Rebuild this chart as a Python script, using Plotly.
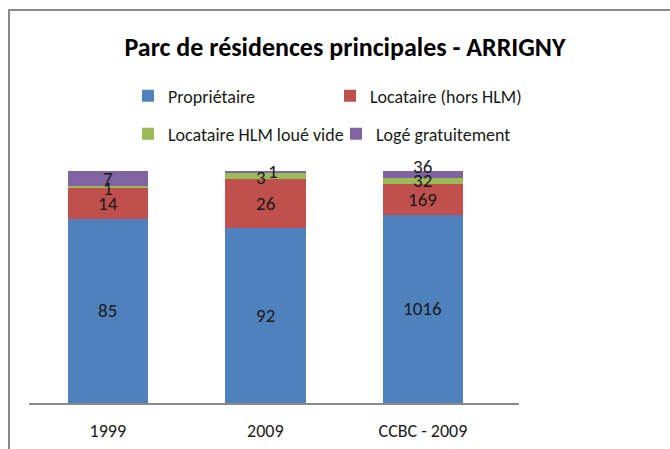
import plotly.graph_objects as go

# Parc de résidences principales - ARRIGNY (répartition en %)
categories = ["1999", "2009", "CCBC - 2009"]
series_names = ["Propriétaire", "Locataire (hors HLM)", "Locataire HLM loué vide", "Logé gratuitement"]
proprietaire = [85, 92, 1016]
locataire_hors_hlm = [14, 26, 169]
locataire_hlm = [1, 3, 32]
loge_gratuit = [7, 1, 36]
colors = ["#4F81BD", "#C0504D", "#9BBB59", "#8064A2"]

series = [proprietaire, locataire_hors_hlm, locataire_hlm, loge_gratuit]
totals = [sum(s[i] for s in series) for i in range(len(categories))]

FONT = "Carlito, Calibri, sans-serif"
W, H = 670, 449
L, R, T, B = 29, 151, 171, 46
PW, PH = W - L - R, H - T - B

fig = go.Figure()
for k, (name, vals, col) in enumerate(zip(series_names, series, colors)):
    fig.add_trace(go.Bar(
        x=categories, y=vals, name=name, marker=dict(color=col, line=dict(width=0)),
        width=0.51, legend="legend" if k < 2 else "legend2",
        textposition="none", hoverinfo="name+y",
    ))

# value labels centred on each stacked segment (percent scale)
label_shift = {(0, 2): (0, -1), (1, 2): (-4, -2), (1, 3): (8, 0), (2, 3): (0, 8)}
for i, cat in enumerate(categories):
    base = 0.0
    for k, vals in enumerate(series):
        pct = vals[i] / totals[i] * 100
        dx, dy = label_shift.get((i, k), (0, 0))
        fig.add_annotation(x=i, y=base + pct / 2, xref="x", yref="y",
                           text=str(vals[i]), showarrow=False,
                           xshift=dx, yshift=dy,
                           font=dict(family=FONT, size=19, color="#1a1a1a"))
        base += pct


def px_x(p):
    return (p - L) / PW


def px_y(p):
    return (H - B - p) / PH


# outer frame of the chart area (only the left and top edges are visible)
fig.add_shape(type="rect", xref="paper", yref="paper",
              x0=px_x(9), x1=px_x(W + 20), y0=px_y(H + 20), y1=px_y(10),
              line=dict(color="#8a8a8a", width=2), fillcolor="rgba(0,0,0,0)", layer="below")

legend_style = dict(orientation="h", xanchor="left", yanchor="middle",
                    font=dict(family=FONT, size=18, color="#1a1a1a"),
                    bgcolor="rgba(0,0,0,0)", traceorder="normal")

fig.update_layout(
    width=W, height=H,
    margin=dict(l=L, r=R, t=T, b=B, pad=0, autoexpand=False),
    barmode="stack", barnorm="percent",
    paper_bgcolor="white", plot_bgcolor="white",
    title=dict(text="<b>Parc de résidences principales - ARRIGNY</b>",
               x=345 / W, xref="container", xanchor="center",
               y=1 - 47 / H, yref="container", yanchor="middle",
               font=dict(family=FONT, size=26, color="#000000")),
    xaxis=dict(range=[-0.5, 2.61], showgrid=False, zeroline=False, automargin=False,
               showline=True, linecolor="#8a8a8a", linewidth=1.5,
               ticks="", tickfont=dict(family=FONT, size=18, color="#1a1a1a"),
               ticklabelstandoff=11),
    yaxis=dict(range=[0, 100], visible=False, showgrid=False, automargin=False),
    legend=dict(x=px_x(128), y=px_y(96), entrywidth=157, **legend_style),
    legend2=dict(x=px_x(128), y=px_y(134), entrywidth=163, **legend_style),
    showlegend=True,
)

fig.write_html("out.html")
